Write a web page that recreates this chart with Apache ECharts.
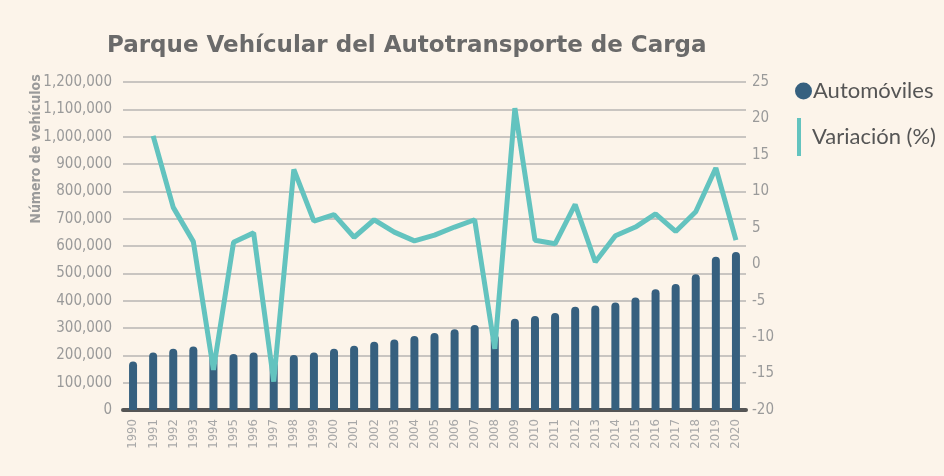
<!DOCTYPE html>
<html>
<head>
<meta charset="utf-8">
<script src="https://cdn.jsdelivr.net/npm/echarts@6/dist/echarts.min.js"></script>
<style>
  html, body { margin: 0; padding: 0; background: #fcf4ea; }
  #chart { width: 944px; height: 476px; }
</style>
</head>
<body>
<div id="chart"></div>
<script>
// data
const years = ['1990', '1991', '1992', '1993', '1994', '1995', '1996', '1997', '1998', '1999',
  '2000', '2001', '2002', '2003', '2004', '2005', '2006', '2007', '2008', '2009',
  '2010', '2011', '2012', '2013', '2014', '2015', '2016', '2017', '2018', '2019', '2020'];
const automoviles = [177000, 210000, 224000, 232000, 198000, 205000, 210000, 176000, 201000, 210000,
  224000, 235000, 250000, 258000, 271000, 282000, 295000, 311000, 275000, 334000,
  344000, 355000, 378000, 382000, 393000, 412000, 442000, 461000, 497000, 561000, 578000];
const variacion = [null, 17.6, 7.8, 3.1, -14.5, 3.0, 4.3, -16.1, 13.0, 5.9,
  6.8, 3.7, 6.1, 4.4, 3.2, 4.0, 5.1, 6.1, -11.6, 21.4,
  3.3, 2.8, 8.2, 0.3, 3.9, 5.1, 6.9, 4.5, 7.2, 13.2, 3.3];

const condensed = "'Liberation Sans Narrow', 'DejaVu Sans Condensed', 'Roboto Condensed', sans-serif";
const fmt = v => String(v).replace(/\B(?=(\d{3})+(?!\d))/g, ',');

const myChart = echarts.init(document.getElementById('chart'));
const option = {
  backgroundColor: '#fcf4ea',
  animation: false,
  title: {
    text: 'Parque Vehícular del Autotransporte de Carga',
    left: 102,
    top: 30,
    textStyle: {
      color: '#6a6a6a',
      fontSize: 23,
      fontWeight: 'bold',
      fontFamily: "'DejaVu Sans', sans-serif",
    },
  },
  graphic: [
    {
      type: 'text',
      x: 36,
      y: 149,
      rotation: Math.PI / 2,
      style: {
        text: 'Número de vehículos',
        fill: '#9a9a9a',
        font: 'bold 14px ' + condensed,
        align: 'center',
        verticalAlign: 'middle',
      },
    },
  ],
  legend: [
    {
      data: ['Automóviles'],
      left: 790,
      top: 75,
      icon: 'circle',
      itemWidth: 17,
      itemHeight: 17,
      textStyle: { color: '#555', fontSize: 22, fontFamily: 'Lato, sans-serif', padding: [0, 0, 0, -4] },
    },
    {
      data: ['Variación (%)'],
      left: 792,
      top: 113,
      icon: 'rect',
      itemWidth: 4,
      itemHeight: 38,
      itemStyle: { color: '#63c3bf' },
      textStyle: { color: '#555', fontSize: 22, fontFamily: 'Lato, sans-serif', padding: [0, 0, 0, 6] },
    },
  ],
  grid: {
    left: 123,
    right: 198,
    top: 82,
    bottom: 66,
  },
  xAxis: {
    type: 'category',
    data: years,
    axisTick: { show: false },
    axisLine: { lineStyle: { color: '#555', width: 4 } },
    axisLabel: {
      rotate: 90,
      color: '#a8a8a8',
      fontSize: 13,
      fontFamily: condensed,
      margin: 9,
      interval: 0,
    },
  },
  yAxis: [
    {
      type: 'value',
      min: 0,
      max: 1200000,
      interval: 100000,
      axisLine: { show: false },
      axisTick: { show: false },
      splitLine: { lineStyle: { color: '#c9c5c1', width: 2 } },
      axisLabel: {
        color: '#9a9a9a',
        fontSize: 15,
        fontFamily: condensed,
        margin: 11,
        formatter: fmt,
      },
    },
    {
      type: 'value',
      min: -20,
      max: 25,
      interval: 5,
      axisLine: { show: false },
      axisTick: { show: false },
      splitLine: { show: false },
      axisLabel: {
        color: '#9a9a9a',
        fontSize: 15,
        fontFamily: condensed,
        margin: 6,
      },
    },
  ],
  series: [
    {
      name: 'Automóviles',
      type: 'bar',
      data: automoviles,
      barWidth: 8,
      itemStyle: { color: '#36607f', borderRadius: [4, 4, 0, 0] },
    },
    {
      name: 'Variación (%)',
      type: 'line',
      yAxisIndex: 1,
      data: variacion,
      symbol: 'none',
      z: 5,
      lineStyle: { color: '#63c3bf', width: 5 },
      itemStyle: { color: '#63c3bf' },
    },
  ],
};
myChart.setOption(option);
</script>
</body>
</html>
